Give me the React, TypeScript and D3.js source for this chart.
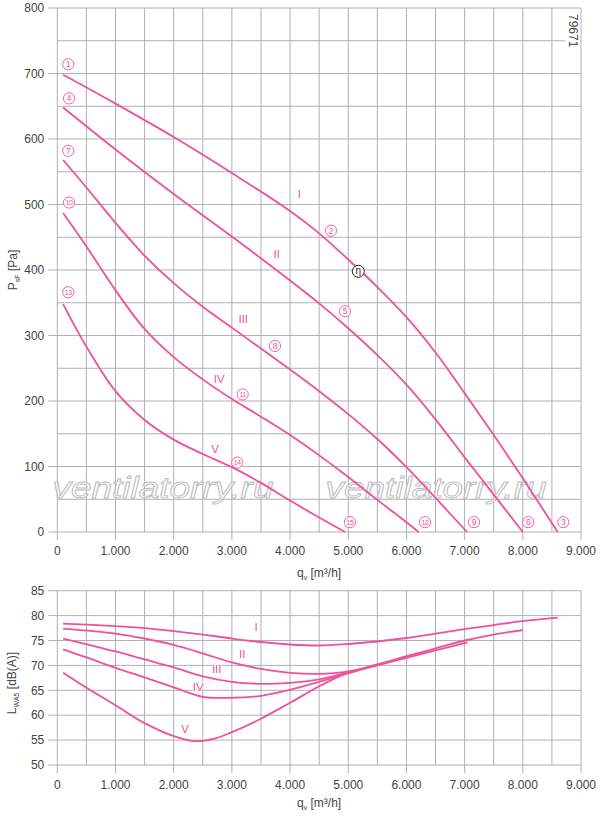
import React from "react";
import * as d3 from "d3";

// ---------- axis data ----------
const qTickValues = [0, 1000, 2000, 3000, 4000, 5000, 6000, 7000, 8000, 9000];
const qTickLabels = ["0", "1.000", "2.000", "3.000", "4.000", "5.000", "6.000", "7.000", "8.000", "9.000"];
const qGridValues = d3.range(0, 9001, 500);
const pTickValues = [0, 100, 200, 300, 400, 500, 600, 700, 800];
const pGridValues = d3.range(0, 801, 50);
const lTickValues = [50, 55, 60, 65, 70, 75, 80, 85];

// ---------- pressure curves  [q m3/h, p Pa] ----------
const pressureI: [number, number][] = [
  [100, 698], [1000, 654], [2000, 603], [3000, 548], [4000, 490], [4500, 456], [5000, 416],
  [5500, 374], [6000, 328], [6500, 274], [7000, 212], [7500, 148], [8000, 82], [8600, 0],
];
const pressureII: [number, number][] = [
  [100, 648], [1000, 584], [2000, 516], [3000, 451], [4000, 384], [4500, 349], [5000, 311],
  [5500, 270], [6000, 225], [6500, 172], [7000, 114], [7500, 57], [8000, 0],
];
const pressureIII: [number, number][] = [
  [100, 568], [500, 526], [1000, 472], [1500, 422], [2000, 380], [2500, 344], [3000, 312],
  [3500, 280], [4000, 248], [4500, 215], [5000, 180], [5500, 142], [6000, 99], [6500, 52], [7040, 0],
];
const pressureIV: [number, number][] = [
  [100, 487], [500, 436], [1000, 369], [1500, 310], [2000, 267], [2500, 233], [3000, 203],
  [3500, 176], [4000, 148], [4500, 117], [5000, 84], [5500, 49], [6000, 15], [6210, 0],
];
const pressureV: [number, number][] = [
  [100, 348], [500, 283], [1000, 215], [1500, 171], [2000, 141], [2500, 119], [3000, 99],
  [3500, 75], [4000, 48], [4500, 22], [4945, 0],
];

// ---------- sound power curves [q m3/h, L dB(A)] ----------
const soundI: [number, number][] = [
  [100, 78.4], [1000, 77.9], [1500, 77.5], [2000, 76.9], [2500, 76.2], [3000, 75.4], [3500, 74.7],
  [4000, 74.2], [4500, 74.0], [5000, 74.3], [5500, 74.8], [6000, 75.5], [6500, 76.4], [7000, 77.3],
  [7500, 78.1], [8000, 78.9], [8600, 79.6],
];
const soundII: [number, number][] = [
  [100, 77.4], [1000, 76.4], [1500, 75.4], [2000, 74.1], [2500, 72.4], [3000, 70.6], [3500, 69.3],
  [4000, 68.5], [4500, 68.3], [5000, 68.8], [5500, 70.2], [6000, 71.8], [6500, 73.4], [7000, 75.0],
  [7500, 76.2], [8000, 77.1],
];
const soundIII: [number, number][] = [
  [100, 75.4], [1000, 72.8], [1500, 71.2], [2000, 69.6], [2500, 67.8], [3000, 66.7], [3500, 66.3],
  [4000, 66.5], [4500, 67.2], [5000, 68.6], [5500, 70.0], [6000, 71.5], [6500, 73.0], [7050, 74.6],
];
const soundIV: [number, number][] = [
  [100, 73.2], [500, 71.6], [1000, 69.5], [1500, 67.6], [2000, 65.6], [2500, 63.7], [3000, 63.5],
  [3500, 63.9], [4000, 65.1], [4500, 66.7], [5000, 68.4], [5500, 70.1], [6000, 71.8], [6230, 72.5],
];
const soundV: [number, number][] = [
  [100, 68.5], [500, 65.5], [1000, 62.0], [1500, 58.4], [2000, 55.8], [2350, 54.8], [2700, 55.3],
  [3000, 56.6], [3500, 59.3], [4000, 62.5], [4500, 65.8], [4950, 68.4],
];

const pressureCurves = [pressureI, pressureII, pressureIII, pressureIV, pressureV];
const soundCurves = [soundI, soundII, soundIII, soundIV, soundV];
const romanNames = ["I", "II", "III", "IV", "V"];

// ---------- annotations (data coordinates) ----------
const pressureRomanAt: [number, number][] = [[4159, 517], [3770, 425], [3196, 325], [2784, 234], [2710, 127]];
const soundRomanAt: [number, number][] = [[3415, 77.8], [3179, 72.4], [2739, 69.3], [2423, 65.6], [2195, 57.2]];
const pointNumbers = ["1", "4", "7", "10", "13", "2", "5", "8", "11", "14", "15", "12", "9", "6", "3"];
const pointAt: [number, number][] = [
  [189, 714], [201, 662], [189, 582], [201, 503], [189, 366],
  [4704, 460], [4944, 337], [3741, 284], [3186, 210], [3093, 106],
  [5030, 15], [6319, 15], [7161, 15], [8094, 15], [8696, 15],
];
const etaAt: [number, number] = [5173, 398];
const watermarkAt: [number, number][] = [[1816, 52], [6508, 52]];

const PINK = "#EF519A";
const GRID = "#b0b0b0";
const TXT = "#444";
const FONT = "'Liberation Sans', Arial, sans-serif";

export default function App() {
  const x = d3.scaleLinear().domain([0, 9000]).range([57.3, 581]);
  const yP = d3.scaleLinear().domain([0, 800]).range([532, 8]);
  const yL = d3.scaleLinear().domain([50, 85]).range([765, 590.7]);

  const curve = d3.curveCatmullRom.alpha(0.5);
  const lineP = d3.line<[number, number]>().x((d) => x(d[0])).y((d) => yP(d[1])).curve(curve);
  const lineL = d3.line<[number, number]>().x((d) => x(d[0])).y((d) => yL(d[1])).curve(curve);

  const x0 = x(0), x9 = x(9000);

  return (
    <svg width={600} height={816} style={{ position: "absolute", left: 0, top: 0, background: "#fff" }} fontFamily={FONT}>
      <rect x={0} y={0} width={600} height={816} fill="#fff" />

      {/* ===== TOP CHART ===== */}
      <g>
        {pGridValues.map((v) => (
          <line key={"hp" + v} x1={v % 100 === 0 ? x0 - 9 : x0} x2={x9} y1={yP(v)} y2={yP(v)} stroke={GRID} strokeWidth={1} />
        ))}
        {qGridValues.map((v) => (
          <line key={"vp" + v} x1={x(v)} x2={x(v)} y1={yP(800)} y2={v % 1000 === 0 ? yP(0) + 8 : yP(0)} stroke={GRID} strokeWidth={1} />
        ))}
        {pTickValues.map((v) => (
          <text key={"tp" + v} x={x0 - 13} y={yP(v)} dy="0.35em" textAnchor="end" fontSize={12} fill={TXT}>{v}</text>
        ))}
        {qTickValues.map((v, i) => (
          <text key={"tq" + v} x={x(v)} y={yP(0) + 23} textAnchor="middle" fontSize={12} fill={TXT}>{qTickLabels[i]}</text>
        ))}
        <text transform={`translate(17,270) rotate(-90)`} textAnchor="middle" fontSize={12} fill={TXT}>
          P<tspan fontSize={7} dy={3}>sF</tspan><tspan dy={-3}> [Pa]</tspan>
        </text>
        <text x={297} y={577} fontSize={12} fill={TXT}>
          q<tspan fontSize={7} dy={3}>v</tspan><tspan dy={-3}> [m³/h]</tspan>
        </text>

        <rect x={565} y={12} width={15} height={37} fill="#fff" />
        <text transform={`translate(569,14) rotate(90)`} fontSize={12} fill={TXT}>79671</text>

        {watermarkAt.map((d, i) => (
          <text key={"wm" + i} x={x(d[0])} y={yP(d[1])} textAnchor="middle" fontSize={29} fontStyle="italic"
            fill="#fff" fillOpacity={0.6} stroke="#bdbdbd" strokeWidth={0.9} textLength={221} lengthAdjust="spacingAndGlyphs">
            ventilatorry.ru
          </text>
        ))}

        {pressureCurves.map((c, i) => (
          <path key={"pc" + i} d={lineP(c) || ""} fill="none" stroke={PINK} strokeWidth={1.8} />
        ))}

        {pressureRomanAt.map((d, i) => (
          <text key={"pr" + i} x={x(d[0])} y={yP(d[1])} dy="0.36em" textAnchor="middle" fontSize={11.5} fill={PINK}>{romanNames[i]}</text>
        ))}

        {pointAt.map((d, i) => (
          <g key={"pt" + i} transform={`translate(${x(d[0])},${yP(d[1])})`}>
            <circle r={5.6} fill="#fff" stroke={PINK} strokeWidth={0.9} />
            <text y={0} dy="0.36em" textAnchor="middle" fontSize={pointNumbers[i].length > 1 ? 7 : 8.5} fill={PINK}
              letterSpacing={pointNumbers[i].length > 1 ? -0.4 : 0}>{pointNumbers[i]}</text>
          </g>
        ))}

        <g transform={`translate(${x(etaAt[0])},${yP(etaAt[1])})`}>
          <circle r={6} fill="#fff" stroke="#222" strokeWidth={1} />
          <text dy="0.3em" textAnchor="middle" fontSize={10} fill="#222">η</text>
        </g>
      </g>

      {/* ===== BOTTOM CHART ===== */}
      <g>
        {lTickValues.map((v) => (
          <line key={"hl" + v} x1={x0 - 9} x2={x9} y1={yL(v)} y2={yL(v)} stroke={GRID} strokeWidth={1} />
        ))}
        {qGridValues.map((v) => (
          <line key={"vl" + v} x1={x(v)} x2={x(v)} y1={yL(85)} y2={v % 1000 === 0 ? yL(50) + 8 : yL(50)} stroke={GRID} strokeWidth={1} />
        ))}
        {lTickValues.map((v) => (
          <text key={"tl" + v} x={x0 - 13} y={yL(v)} dy="0.35em" textAnchor="end" fontSize={12} fill={TXT}>{v}</text>
        ))}
        {qTickValues.map((v, i) => (
          <text key={"tq2" + v} x={x(v)} y={yL(50) + 24} textAnchor="middle" fontSize={12} fill={TXT}>{qTickLabels[i]}</text>
        ))}
        <text transform={`translate(16,683) rotate(-90)`} textAnchor="middle" fontSize={12} fill={TXT}>
          L<tspan fontSize={7} dy={3}>WA5</tspan><tspan dy={-3}> [dB(A)]</tspan>
        </text>
        <text x={297} y={807} fontSize={12} fill={TXT}>
          q<tspan fontSize={7} dy={3}>v</tspan><tspan dy={-3}> [m³/h]</tspan>
        </text>

        {soundCurves.map((c, i) => (
          <path key={"sc" + i} d={lineL(c) || ""} fill="none" stroke={PINK} strokeWidth={1.8} />
        ))}
        {soundRomanAt.map((d, i) => (
          <text key={"sr" + i} x={x(d[0])} y={yL(d[1])} dy="0.36em" textAnchor="middle" fontSize={11.5} fill={PINK}
            stroke="#fff" strokeWidth={2} paintOrder="stroke">{romanNames[i]}</text>
        ))}
      </g>
    </svg>
  );
}
